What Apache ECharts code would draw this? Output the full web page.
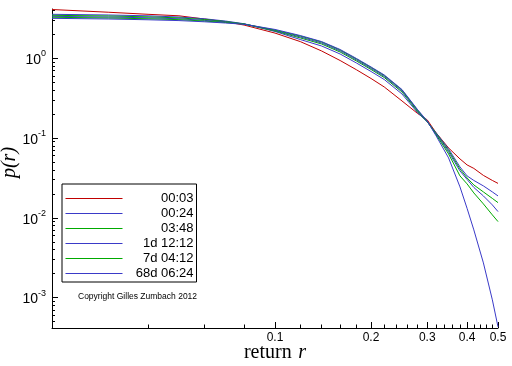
<!DOCTYPE html>
<html>
<head>
<meta charset="utf-8">
<script src="https://cdn.jsdelivr.net/npm/echarts@6/dist/echarts.min.js"></script>
<style>html,body{margin:0;padding:0;background:#fff}#c{width:512px;height:366px}</style>
</head>
<body>
<div id="c"></div>
<script>
// ---- data ----
const returns = [0.02,0.03,0.04,0.05,0.06,0.07,0.08,0.1,0.12,0.14,0.16,0.18,0.2,0.22,0.25,0.28,0.3,0.32,0.35,0.38,0.4,0.42,0.45,0.48,0.5];
const seriesNames = ['00:03','00:24','03:48','1d 12:12','7d 04:12','68d 06:24'];
const p_0003 = [4.09,3.78,3.56,3.41,3.11,2.87,2.61,2.07,1.62,1.235,0.938,0.718,0.558,0.437,0.292,0.203,0.169,0.116,0.0751,0.0547,0.046,0.0416,0.034,0.0294,0.027];
const p_0024 = [3.56,3.49,3.41,3.29,3.13,2.93,2.71,2.17,1.72,1.426,1.132,0.873,0.683,0.542,0.357,0.2075,0.159,0.1159,0.073,0.0434,0.0335,0.0294,0.0251,0.0211,0.0188];
const p_0348 = [3.46,3.39,3.31,3.21,3.06,2.89,2.69,2.20,1.80,1.511,1.199,0.925,0.724,0.574,0.378,0.2136,0.1605,0.1142,0.0699,0.041,0.0316,0.0258,0.0211,0.0175,0.0155];
const p_1d = [3.36,3.29,3.22,3.13,2.99,2.85,2.69,2.23,1.85,1.555,1.235,0.952,0.745,0.591,0.389,0.2198,0.1614,0.1125,0.0669,0.0387,0.0303,0.024,0.0188,0.0145,0.01196];
const p_7d = [3.27,3.20,3.13,3.05,2.93,2.81,2.69,2.26,1.90,1.601,1.27,0.98,0.767,0.609,0.401,0.2231,0.1623,0.1093,0.0632,0.0335,0.0266,0.0205,0.01493,0.01087,0.00896];
const p_68d = [3.17,3.11,3.04,2.97,2.87,2.77,2.67,2.30,1.93,1.62,1.289,0.994,0.778,0.618,0.406,0.2263,0.1637,0.1063,0.0563,0.0244,0.01312,0.00705,0.00272,0.000936,0.000429];
const xTickLabels = [0.1,0.2,0.3,0.4,0.5];
const xMinorTicks = [0.04,0.06,0.08,0.12,0.14,0.16,0.18,0.22,0.24,0.26,0.28,0.32,0.34,0.36,0.38,0.42,0.44,0.46,0.48];
const yTickLabels = [0.001,0.01,0.1,1];
const yMinorTicks = [0.0005,0.0006,0.0007,0.0008,0.0009,
  0.002,0.003,0.004,0.005,0.006,0.007,0.008,0.009,
  0.02,0.03,0.04,0.05,0.06,0.07,0.08,0.09,
  0.2,0.3,0.4,0.5,0.6,0.7,0.8,0.9,
  2,3,4];
const allSeries = [p_0003,p_0024,p_0348,p_1d,p_7d,p_68d];
const colors = ['#c00000','#3a3ac8','#00aa00','#3a3ac8','#00aa00','#3a3ac8'];

const X_MIN = 0.02, X_MAX = 0.5, Y_MIN = 4.15e-4, Y_MAX = 4.15;
const sans = 'Liberation Sans, Arial, sans-serif';
const serif = 'Liberation Serif, Times New Roman, serif';

const chart = echarts.init(document.getElementById('c'), null, {renderer:'canvas'});
const axisLineStyle = {color:'#000', width:1};
chart.setOption({
  animation:false,
  backgroundColor:'#fff',
  grid:{left:52, right:14, top:9, bottom:38, containLabel:false, outerBoundsMode:'none'},
  title:{text:'Copyright Gilles Zumbach 2012', left:78, top:292, padding:0,
    textStyle:{fontSize:8.5, fontWeight:'normal', color:'#000', fontFamily:sans}},
  legend:{
    orient:'vertical', left:62, top:184,
    data:seriesNames,
    itemStyle:{opacity:0},
    lineStyle:{width:1},
    backgroundColor:'#fff', borderColor:'#000', borderWidth:1, borderRadius:0,
    padding:[8,3,2,3], itemGap:2, itemWidth:57, itemHeight:13,
    formatter: n => '{a|' + n + '}',
    textStyle:{color:'#000', fontFamily:sans, fontSize:13,
      rich:{a:{width:66, align:'right', fontSize:13, lineHeight:13, fontFamily:sans, color:'#000'}}}
  },
  xAxis:[{
    type:'log', logBase:10, min:X_MIN, max:X_MAX,
    name:'{a|return}  {b|r}', nameLocation:'middle', nameGap:15, nameMoveOverlap:false,
    nameTextStyle:{rich:{a:{fontFamily:serif, fontSize:20, color:'#000'}, b:{fontFamily:serif, fontStyle:'italic', fontSize:20, color:'#000'}}},
    axisLine:{show:true, lineStyle:axisLineStyle},
    axisTick:{show:true, inside:true, length:6, customValues:xTickLabels, lineStyle:axisLineStyle},
    axisLabel:{show:true, customValues:xTickLabels, color:'#000', fontFamily:sans, fontSize:12, margin:4,
      formatter: v => String(Math.round(v*10)/10)},
    splitLine:{show:false}, minorTick:{show:false}
  },{
    type:'log', logBase:10, min:X_MIN, max:X_MAX, position:'bottom',
    axisLine:{show:false},
    axisTick:{show:true, inside:true, length:3.5, customValues:xMinorTicks, lineStyle:axisLineStyle},
    axisLabel:{show:false}, splitLine:{show:false}
  }],
  yAxis:[{
    type:'log', logBase:10, min:Y_MIN, max:Y_MAX,
    name:'p(r)', nameLocation:'middle', nameGap:32, nameMoveOverlap:false,
    nameTextStyle:{fontFamily:serif, fontStyle:'italic', fontSize:20, color:'#000', padding:[0,0,0,12]},
    axisLine:{show:true, lineStyle:axisLineStyle},
    axisTick:{show:true, inside:true, length:6, customValues:yTickLabels, lineStyle:axisLineStyle},
    axisLabel:{show:true, customValues:yTickLabels, margin:6,
      formatter: v => { const e = Math.round(Math.log10(v)); return '{b|10}{s|' + (e < 0 ? '-' + (-e) : e) + '}'; },
      rich:{b:{fontFamily:sans, fontSize:14, color:'#000', lineHeight:18, verticalAlign:'bottom'},
            s:{fontFamily:sans, fontSize:9, color:'#000', lineHeight:9, verticalAlign:'top'}}},
    splitLine:{show:false}
  },{
    type:'log', logBase:10, min:Y_MIN, max:Y_MAX, position:'left',
    axisLine:{show:false},
    axisTick:{show:true, inside:true, length:3, customValues:yMinorTicks, lineStyle:axisLineStyle},
    axisLabel:{show:false}, splitLine:{show:false}
  }],
  series: allSeries.map((vals, i) => ({
    name: seriesNames[i], type:'line', xAxisIndex:0, yAxisIndex:0,
    symbol:'none', smooth:false,
    lineStyle:{color:colors[i], width:1},
    itemStyle:{color:colors[i]},
    data: returns.map((r, j) => [r, vals[j]])
  }))
});
</script>
</body>
</html>
